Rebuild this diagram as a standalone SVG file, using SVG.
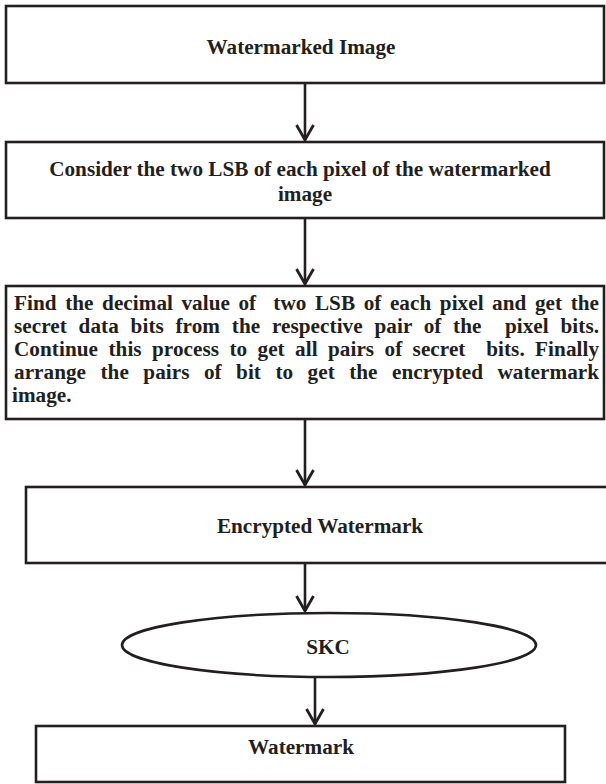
<svg xmlns="http://www.w3.org/2000/svg" width="606" height="784" viewBox="0 0 606 784">
<style>
.box{fill:#fff;stroke:#231f20;stroke-width:2.6}
.t{font-family:"Liberation Serif","Times New Roman",serif;font-weight:bold;font-size:21.2px;fill:#231f20}
.c{text-anchor:middle}
.con{stroke:#231f20;stroke-width:2.6;fill:none}
</style>
<defs>
<marker id="arr" markerUnits="userSpaceOnUse" markerWidth="20" markerHeight="20" refX="15" refY="9.5" orient="auto" overflow="visible">
<polyline points="0,1 15,9.5 0,18" fill="none" stroke="#231f20" stroke-width="2.8"/>
</marker>
</defs>
<rect width="606" height="784" fill="#fff"/>
<g id="connectors">
<line class="con" x1="305" y1="83" x2="305" y2="140" marker-end="url(#arr)"/>
<line class="con" x1="305" y1="218" x2="305" y2="284" marker-end="url(#arr)"/>
<line class="con" x1="305" y1="419" x2="305" y2="485" marker-end="url(#arr)"/>
<line class="con" x1="305" y1="563" x2="305" y2="611" marker-end="url(#arr)"/>
<line class="con" x1="315" y1="677" x2="315" y2="724" marker-end="url(#arr)"/>
</g>
<g id="n1">
<rect class="box" x="6" y="6" width="598" height="77"/>
<text class="t c" x="301" y="54">Watermarked Image</text>
</g>
<g id="n2">
<rect class="box" x="6" y="142" width="598" height="76"/>
<text class="t c" x="300" y="176">Consider the two LSB of each pixel of the watermarked</text>
<text class="t c" x="305" y="201">image</text>
</g>
<g id="n3">
<rect class="box" x="6" y="286" width="598" height="133"/>
<text class="t" x="14" y="310" xml:space="preserve" style="white-space:pre" word-spacing="3.2" textLength="585" lengthAdjust="spacing">Find the decimal value of  two LSB of each pixel and get the</text>
<text class="t" x="14" y="333" xml:space="preserve" style="white-space:pre" word-spacing="6.3" textLength="585" lengthAdjust="spacing">secret data bits from the respective pair of the  pixel bits.</text>
<text class="t" x="14" y="356" xml:space="preserve" style="white-space:pre" word-spacing="5" textLength="585" lengthAdjust="spacing">Continue this process to get all pairs of secret  bits. Finally</text>
<text class="t" x="14" y="379" word-spacing="9.1" textLength="585" lengthAdjust="spacing">arrange the pairs of bit to get the encrypted watermark</text>
<text class="t" x="12" y="402">image.</text>
</g>
<g id="n4">
<rect class="box" x="26" y="487" width="592" height="76"/>
<text class="t c" x="320" y="533">Encrypted Watermark</text>
</g>
<g id="n5">
<ellipse class="box" cx="329" cy="645" rx="207" ry="32"/>
<text class="t c" x="328" y="654">SKC</text>
</g>
<g id="n6">
<rect class="box" x="36" y="726" width="529" height="56"/>
<text class="t c" x="301" y="754">Watermark</text>
</g>
</svg>
